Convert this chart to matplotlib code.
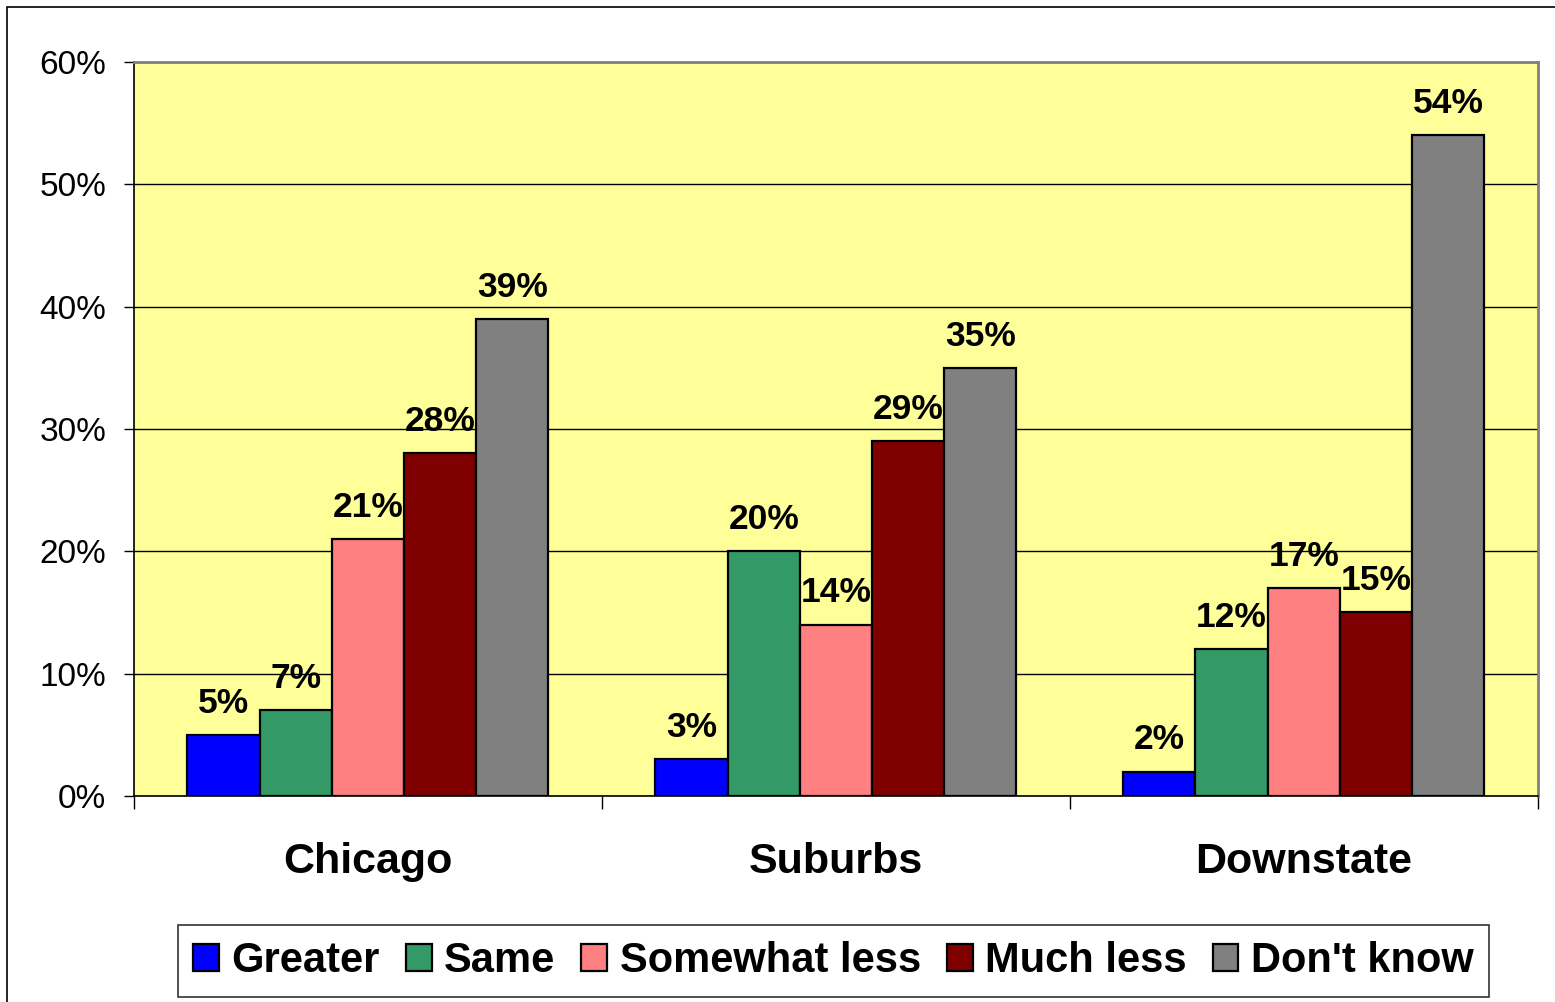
import numpy as np
import matplotlib.pyplot as plt
from matplotlib.patches import Rectangle
from matplotlib.ticker import FixedLocator

plt.rcParams['font.family'] = ['Liberation Sans', 'DejaVu Sans']

# Survey answers by region (percent)
regions = ['Chicago', 'Suburbs', 'Downstate']
answers = ['Greater', 'Same', 'Somewhat less', 'Much less', "Don't know"]
greater = [5, 3, 2]
same = [7, 20, 12]
somewhat_less = [21, 14, 17]
much_less = [28, 29, 15]
dont_know = [39, 35, 54]
colors = ['#0000FF', '#339966', '#FF8080', '#800000', '#808080']

series = [greater, same, somewhat_less, much_less, dont_know]

fig = plt.figure(figsize=(15.55, 10.02), dpi=100)
ax = fig.add_axes([0.0862, 0.2056, 0.9027, 0.7325])
ax.set_facecolor('#FFFF99')

x = np.arange(len(regions))
width = 0.1543
offsets = (np.arange(len(series)) - 2) * width

for vals, off, col, name in zip(series, offsets, colors, answers):
    bars = ax.bar(x + off, vals, width, color=col, edgecolor='black',
                  linewidth=1.6, label=name, zorder=3)
    for b, v in zip(bars, vals):
        ax.annotate(f'{v}%', (b.get_x() + b.get_width() / 2, v),
                    xytext=(0, 11), textcoords='offset points',
                    ha='center', va='bottom', fontsize=25.5, fontweight='bold')

ax.set_xlim(-0.5, 2.5)
ax.set_ylim(0, 60)
ax.set_yticks(np.arange(0, 61, 10))
ax.set_yticklabels([f'{t}%' for t in range(0, 61, 10)], fontsize=24)
ax.yaxis.grid(True, color='black', linewidth=1)
ax.set_axisbelow(True)

ax.set_xticks(x)
ax.set_xticklabels(regions, fontsize=31, fontweight='bold')
ax.xaxis.set_minor_locator(FixedLocator([-0.5, 0.5, 1.5, 2.5]))
ax.tick_params(axis='x', which='major', length=0, pad=33)
ax.tick_params(axis='x', which='minor', length=9, width=1, direction='out')
ax.tick_params(axis='y', length=7, width=1, direction='out', pad=13)

for side in ['top', 'right']:
    ax.spines[side].set_color('#808080')
    ax.spines[side].set_linewidth(2)
ax.spines['left'].set_linewidth(1.2)
ax.spines['bottom'].set_linewidth(1.2)

leg = fig.legend(loc='center', bbox_to_anchor=(0.536, 0.041), ncol=5,
                 prop={'weight': 'bold', 'size': 30},
                 frameon=True, fancybox=False, edgecolor='black',
                 handlelength=0.62, handleheight=0.62, handletextpad=0.3,
                 columnspacing=0.62, borderpad=0.38)
leg.get_frame().set_linewidth(1.2)

# outer chart border
fig.patches.append(Rectangle((7 / 1555, -0.1), 1.2, 1.1 - 7 / 1002,
                             transform=fig.transFigure, fill=False,
                             edgecolor='black', linewidth=1.2))

fig.savefig('out.png', dpi=100)
